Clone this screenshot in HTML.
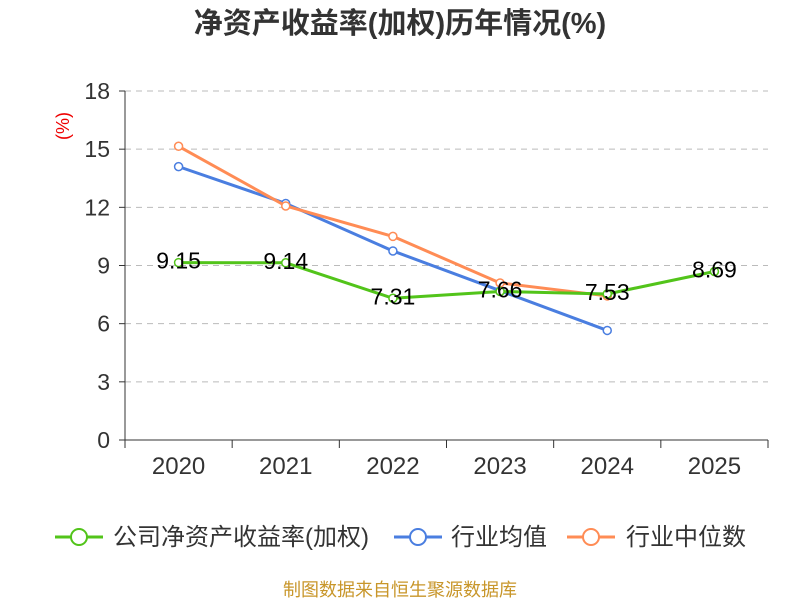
<!DOCTYPE html>
<html><head><meta charset="utf-8"><style>
body{margin:0;background:#fff;}
svg{display:block;font-family:"Liberation Sans","Noto Sans CJK SC",sans-serif;}
</style></head><body>
<svg id="c" width="800" height="600">
<text x="400" y="33" text-anchor="middle" font-size="29" font-weight="bold" fill="#333">净资产收益率(加权)历年情况(%)</text>
<text transform="translate(69,126) rotate(-90)" text-anchor="middle" font-size="18" fill="#e00">(%)</text>
<g id="grid"></g><g id="axes"></g><g id="series"></g>
<g>
<g><line x1="55" y1="537" x2="103" y2="537" stroke="#52c41a" stroke-width="3"/><circle cx="79" cy="537" r="8" fill="#fff" stroke="#52c41a" stroke-width="2"/><text x="113" y="545" font-size="24" fill="#333">公司净资产收益率(加权)</text></g>
<g><line x1="394" y1="537" x2="442" y2="537" stroke="#4a7ee0" stroke-width="3"/><circle cx="418" cy="537" r="8" fill="#fff" stroke="#4a7ee0" stroke-width="2"/><text x="451" y="545" font-size="24" fill="#333">行业均值</text></g>
<g><line x1="567" y1="537" x2="615" y2="537" stroke="#ff8c55" stroke-width="3"/><circle cx="591" cy="537" r="8" fill="#fff" stroke="#ff8c55" stroke-width="2"/><text x="626" y="545" font-size="24" fill="#333">行业中位数</text></g>
</g>
<text x="400" y="596" text-anchor="middle" font-size="18" fill="#c8962a">制图数据来自恒生聚源数据库</text>
</svg>
<script>
const categories=["2020","2021","2022","2023","2024","2025"];
const companyValues=[9.15,9.14,7.31,7.66,7.53,8.69];
const avgValues=[14.1,12.2,9.75,7.7,5.65,null];
const medianValues=[15.15,12.07,10.5,8.1,7.43,null];
const yTicks=[0,3,6,9,12,15,18];
const NS="http://www.w3.org/2000/svg";
const L=125,R=768,T=91,B=440,yMax=18;
const bw=(R-L)/categories.length;
const xs=i=>L+bw*(i+0.5);
const ys=v=>B-(v/yMax)*(B-T);
function mk(tag,attrs,parent){const e=document.createElementNS(NS,tag);for(const k in attrs)e.setAttribute(k,attrs[k]);parent.appendChild(e);return e;}
const grid=document.getElementById('grid'),axes=document.getElementById('axes'),ser=document.getElementById('series');
yTicks.forEach(t=>{
 if(t>0){const g=mk('line',{x1:L,x2:R,y1:ys(t),y2:ys(t),stroke:'#bbb','stroke-dasharray':'6,5'},grid);
 
 }
 const tk=mk('line',{x1:L-6,x2:L,y1:ys(t),y2:ys(t),stroke:'#333'},axes);
 
 
 const tx=mk('text',{x:L-15,y:ys(t)+8,'text-anchor':'end','font-size':'23',fill:'#333'},axes);tx.textContent=t;
 
 
});
const ya=mk('line',{x1:L,x2:L,y1:T,y2:B,stroke:'#333'},axes);


const xa=mk('line',{x1:L,x2:R,y1:B,y2:B,stroke:'#333'},axes);


for(let i=0;i<=categories.length;i++){const t=mk('line',{x1:L+bw*i,x2:L+bw*i,y1:B,y2:B+8,stroke:'#333'},axes);
 
 }
categories.forEach((c,i)=>{const t=mk('text',{x:xs(i),y:B+34,'text-anchor':'middle','font-size':'24',fill:'#333'},axes);t.textContent=c;
 
 });
function series(vals,color,name){
 const g=mk('g',{},ser);
 
 
 const pts=[];vals.forEach((v,i)=>{if(v!=null)pts.push([xs(i),ys(v)]);});
 mk('polyline',{points:pts.map(p=>p.join(',')).join(' '),fill:'none',stroke:color,'stroke-width':3,'stroke-linejoin':'round'},g);
 vals.forEach((v,i)=>{if(v==null)return;
  const c=mk('circle',{cx:xs(i),cy:ys(v),r:4,fill:'#fff',stroke:color,'stroke-width':1.5},g);
  
  
 });
 return g;
}
series(avgValues,'#4a7ee0','industry-avg-line');
series(medianValues,'#ff8c55','industry-median-line');
const cg=series(companyValues,'#52c41a','company-line');
companyValues.forEach((v,i)=>{const t=mk('text',{x:xs(i),y:ys(v)+6,'text-anchor':'middle','font-size':'23',fill:'#000'},cg);t.textContent=v.toFixed(2);
 
 });
</script>
</body></html>
